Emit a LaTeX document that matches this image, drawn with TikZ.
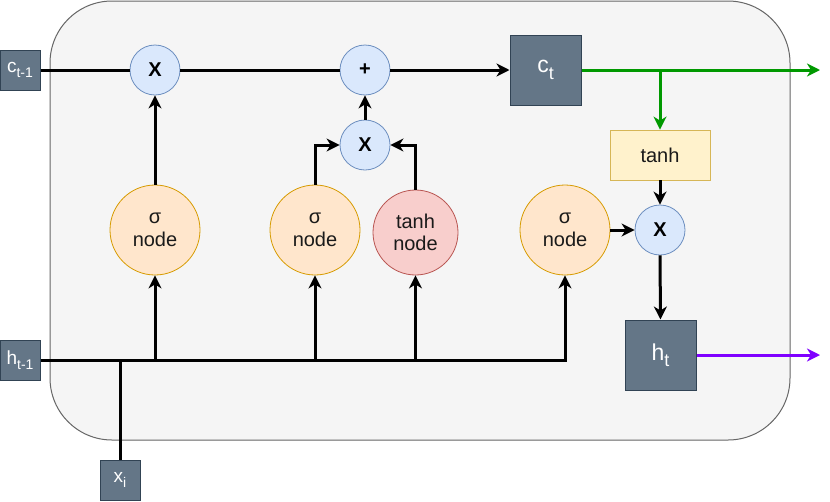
\documentclass[tikz,border=0pt]{standalone}
\usepackage{fontspec}
\setmainfont{Liberation Sans}
\usetikzlibrary{arrows.meta}

\definecolor{cellfill}{HTML}{F5F5F5}
\definecolor{celldraw}{HTML}{666666}
\definecolor{opfill}{HTML}{DAE8FC}
\definecolor{opdraw}{HTML}{6C8EBF}
\definecolor{sigfill}{HTML}{FFE6CC}
\definecolor{sigdraw}{HTML}{D79B00}
\definecolor{tanfill}{HTML}{F8CECC}
\definecolor{tandraw}{HTML}{B85450}
\definecolor{actfill}{HTML}{FFF2CC}
\definecolor{actdraw}{HTML}{D6B656}
\definecolor{statefill}{HTML}{647687}
\definecolor{statedraw}{HTML}{314354}
\definecolor{cellgreen}{HTML}{009900}
\definecolor{hidpurple}{HTML}{7F00FF}
\definecolor{labeltext}{HTML}{1A1A1A}

% subscripts in the state boxes
\newcommand\smallsub[1]{\raisebox{-5pt}{\fontsize{14}{14}\selectfont #1}}
\newcommand\bigsub[1]{\raisebox{-6.5pt}{\fontsize{18}{18}\selectfont #1}}

\tikzset{
  wire/.style={line width=3pt, draw=black},
  arr/.style={-{Stealth[length=13pt,width=13pt,inset=4pt]}},
  opnode/.style={circle, minimum size=50pt, inner sep=0pt, fill=opfill, draw=opdraw,
    line width=0.8pt, font=\fontsize{20}{24}\selectfont\bfseries},
  signode/.style={circle, minimum size=90pt, inner sep=0pt, fill=sigfill, draw=sigdraw,
    line width=0.8pt, align=center, text=labeltext, font=\fontsize{20}{23}\selectfont},
  tannode/.style={circle, minimum size=85pt, inner sep=0pt, fill=tanfill, draw=tandraw,
    line width=0.8pt, align=center, text=labeltext, font=\fontsize{20}{22}\selectfont},
  actbox/.style={rectangle, minimum width=100pt, minimum height=50pt, inner sep=0pt,
    fill=actfill, draw=actdraw, line width=0.8pt, text=labeltext, font=\fontsize{20}{22}\selectfont},
  smallstate/.style={rectangle, minimum width=40pt, minimum height=40pt, inner sep=0pt,
    fill=statefill, draw=statedraw, line width=1pt, text=white, font=\fontsize{19}{19}\selectfont},
  bigstate/.style={rectangle, minimum width=71pt, minimum height=70pt, inner sep=0pt,
    fill=statefill, draw=statedraw, line width=1pt, text=white, font=\fontsize{23}{23}\selectfont},
}

\begin{document}
\begin{tikzpicture}[x=1pt, y=-1pt]
\useasboundingbox (0,0) rectangle (830,501);

% LSTM cell body
\draw[fill=cellfill, draw=celldraw, line width=1pt, rounded corners=62pt] (50,1) rectangle (790,440);

% inputs and outputs
\node[smallstate] (cin) at (20,70) {c\smallsub{t-1}};
\node[smallstate] (hin) at (20,360) {h\smallsub{t-1}};
\node[smallstate] (xin) at (120,480) {x\smallsub{i}};
\node[bigstate] (ct) at (545.5,70) {c\bigsub{t}};
\node[bigstate] (ht) at (660.5,355) {h\bigsub{t}};

% pointwise operations
\node[opnode] (m1) at (155,70) {X};
\node[opnode] (add) at (365,70) {+};
\node[opnode] (m2) at (365,145) {X};
\node[opnode] (m3) at (660,230) {X};

% gates
\node[signode] (s1) at (155,230) {σ\\node};
\node[signode] (s2) at (315,230) {σ\\node};
\node[tannode] (tn) at (415.5,232.5) {tanh\\node};
\node[signode] (s3) at (565,230) {σ\\node};
\node[actbox] (act) at (660,155) {tanh};

% junctions and free ends
\coordinate (jx) at (120,360);
\coordinate (j1) at (155,360);
\coordinate (j2) at (315,360);
\coordinate (j3) at (415.5,360);
\coordinate (jc) at (660,70);
\coordinate (cout) at (820,70);
\coordinate (hout) at (820,355);

% cell state path
\draw[wire] (cin.east) -- (m1.west);
\draw[wire] (m1.east) -- (add.west);
\draw[wire, arr] (add.east) -- (ct.west);

% hidden state and input bus
\draw[wire, arr] (hin.east) -| (s3.south);
\draw[wire] (xin.north) -- (jx);
\draw[wire, arr] (j1) -- (s1.south);
\draw[wire, arr] (j2) -- (s2.south);
\draw[wire, arr] (j3) -- (tn.south);

% gate outputs
\draw[wire, arr] (s1.north) -- (m1.south);
\draw[wire, arr] (s2.north) |- (m2.west);
\draw[wire, arr] (tn.north) |- (m2.east);
\draw[wire, arr] (m2.north) -- (add.south);
\draw[wire, arr] (s3.east) -- (m3.west);
\draw[wire, arr] (act.south) -- (m3.north);
\draw[wire, arr] (m3.south) -- (ht.north);

% outputs
\draw[wire, draw=cellgreen, arr] (ct.east) -- (cout);
\draw[wire, draw=cellgreen, arr] (jc) -- (act.north);
\draw[wire, draw=hidpurple, arr] (ht.east) -- (hout);
\end{tikzpicture}
\end{document}
